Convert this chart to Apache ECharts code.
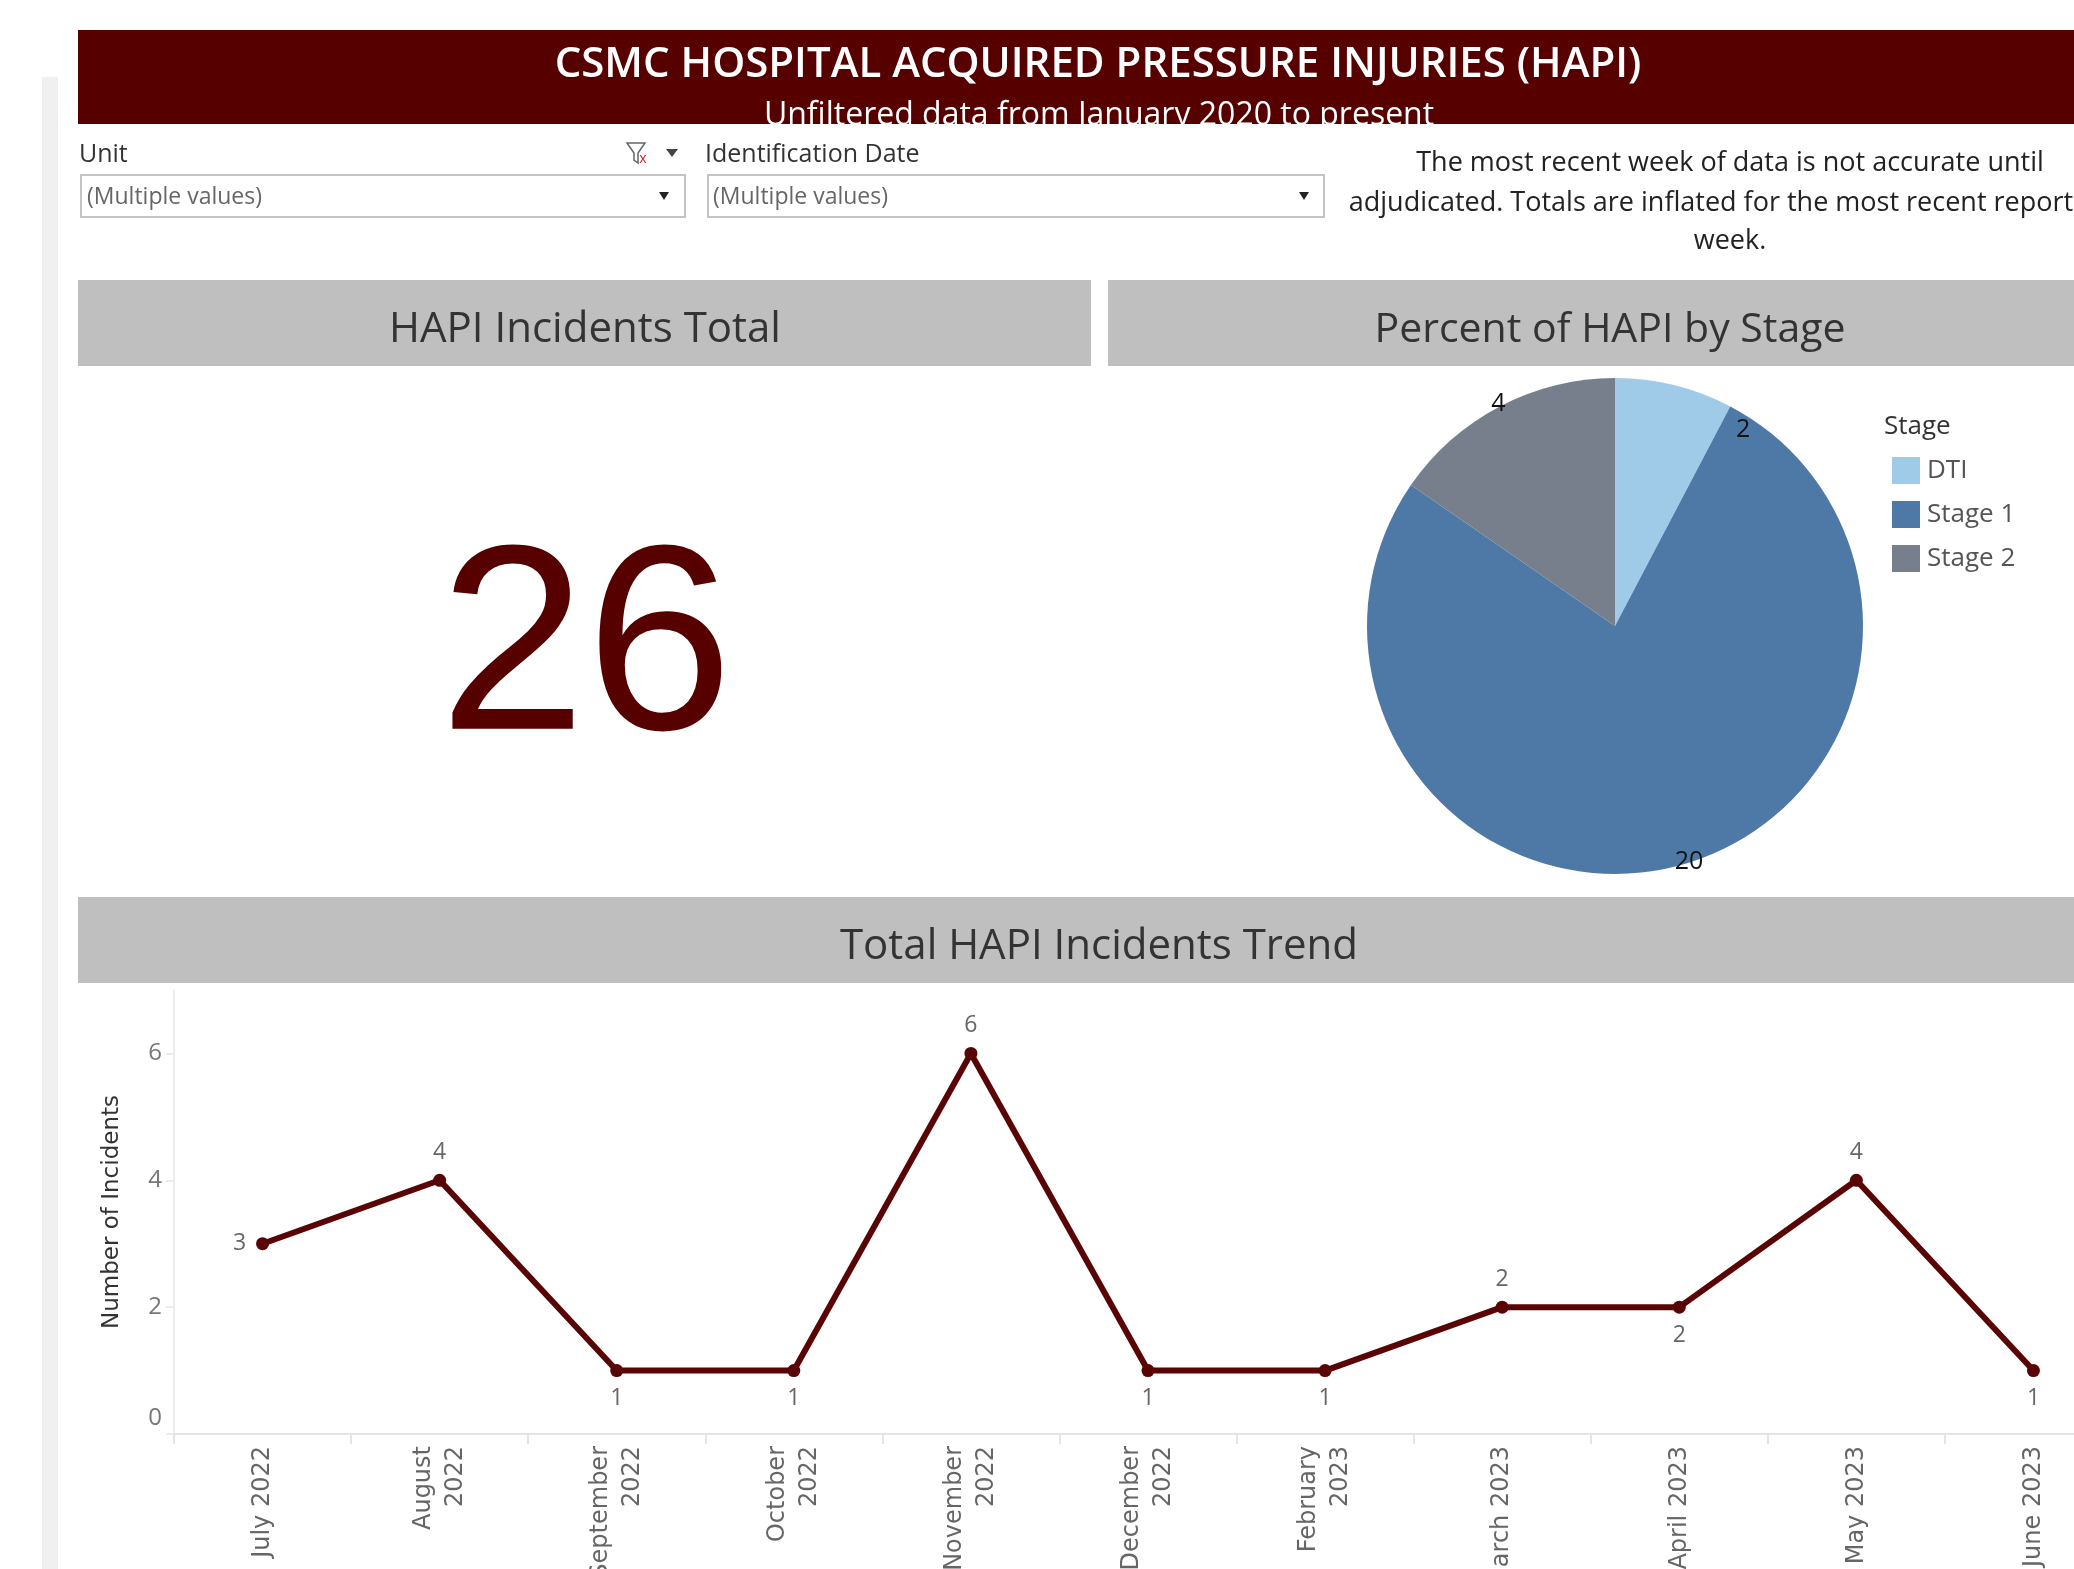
<!DOCTYPE html>
<html>
<head>
<meta charset="utf-8">
<script src="https://cdn.jsdelivr.net/npm/echarts@6/dist/echarts.min.js"></script>
<style>
html,body{margin:0;padding:0;background:#fff;overflow:hidden;}
#main{width:2130px;height:1569px;}
</style>
</head>
<body>
<div id="main"></div>
<script>
// ---- data ----
const months = ["July 2022","August 2022","September 2022","October 2022","November 2022","December 2022","February 2023","March 2023","April 2023","May 2023","June 2023"];
const incidents = [3,4,1,1,6,1,1,2,2,4,1];
const stageNames = ["DTI","Stage 1","Stage 2"];
const stageCounts = [2,20,4];
const stageColors = ["#a0cbe8","#4e79a7","#777f8c"];
const yTicks = [0,2,4,6];

const total = stageCounts.reduce((a,b)=>a+b,0);
const FONT = "Open Sans";

const chart = echarts.init(document.getElementById('main'), null, {renderer:'canvas'});

const pieData = stageNames.map((n,i)=>({name:n, value:stageCounts[i], itemStyle:{color:stageColors[i]}}));
const lineData = incidents.map((v,i)=>{
  let pos;
  if(i===0) pos='left';
  else pos = v > incidents[i-1] ? 'top' : 'bottom';
  return {value:v, label:{position:pos}};
});

function txt(x,y,text,size,color,opts){
  return Object.assign({type:'text', x:x, y:y, silent:true,
    style:Object.assign({text:text, fill:color, font:(opts&&opts.weight?opts.weight+' ':'')+size+'px "'+FONT+'"',
      textAlign:(opts&&opts.align)||'left', textVerticalAlign:(opts&&opts.valign)||'middle'},
      opts&&opts.style||{})}, opts&&opts.z!==undefined?{z:opts.z}:{});
}

const graphics = [
  {type:'rect', shape:{x:42,y:77,width:16,height:1492}, style:{fill:'#f0f0f0'}, silent:true},
  {type:'rect', shape:{x:78,y:30,width:2052,height:94}, style:{fill:'#560000'}, silent:true},
  txt(1098,65,"CSMC HOSPITAL ACQUIRED PRESSURE INJURIES (HAPI)",42,'#ffffff',{align:'center',weight:600}),
  txt(1099,116,"Unfiltered data from January 2020 to present",32,'#ffffff',{align:'center'}),
  {type:'rect', shape:{x:60,y:124,width:2070,height:12}, style:{fill:'#ffffff'}, silent:true, z:5},
  // filters
  txt(79,155,"Unit",25,'#333333'),
  txt(705,155,"Identification Date",25,'#333333'),
  {type:'rect', shape:{x:81,y:175,width:604,height:42}, style:{fill:'#fff',stroke:'#c4c4c4',lineWidth:2}, silent:true},
  {type:'rect', shape:{x:708,y:175,width:616,height:42}, style:{fill:'#fff',stroke:'#c4c4c4',lineWidth:2}, silent:true},
  txt(87,197,"(Multiple values)",23,'#666666'),
  txt(713,197,"(Multiple values)",23,'#666666'),
  {type:'polygon', shape:{points:[[659,192],[669,192],[664,200]]}, style:{fill:'#222'}, silent:true},
  {type:'polygon', shape:{points:[[1299,192],[1309,192],[1304,200]]}, style:{fill:'#222'}, silent:true},
  {type:'polygon', shape:{points:[[627,143],[645,143],[638,153],[638,163],[634,160],[634,153]]}, style:{fill:'none',stroke:'#666',lineWidth:1.5}, silent:true},
  txt(643,159,"x",14,'#d02020',{align:'center'}),
  {type:'polygon', shape:{points:[[666,149],[678,149],[672,157]]}, style:{fill:'#444'}, silent:true},
  // note
  txt(1730,163,"The most recent week of data is not accurate until",27,'#222222',{align:'center'}),
  txt(1730,203,"adjudicated. Totals are inflated for the most recent reporting",27,'#222222',{align:'center'}),
  txt(1730,241,"week.",27,'#222222',{align:'center'}),
  // section headers
  {type:'rect', shape:{x:78,y:280,width:1013,height:86}, style:{fill:'#bfbfbf'}, silent:true},
  {type:'rect', shape:{x:1108,y:280,width:1022,height:86}, style:{fill:'#bfbfbf'}, silent:true},
  {type:'rect', shape:{x:78,y:897,width:2052,height:86}, style:{fill:'#bfbfbf'}, silent:true},
  txt(585,330,"HAPI Incidents Total",42,'#333333',{align:'center'}),
  txt(1610,330,"Percent of HAPI by Stage",41,'#333333',{align:'center'}),
  txt(1099,947,"Total HAPI Incidents Trend",42,'#333333',{align:'center'}),
  // big number
  {type:'text', x:586, y:656, silent:true, style:{text:String(total), fill:'#560000',
     font:'264px "Liberation Sans"', textAlign:'center', textVerticalAlign:'middle'}},
  // legend title
  txt(1884,427,"Stage",26,'#333333')
];

const option = {
  animation:false,
  backgroundColor:'#ffffff',
  graphic:graphics,
  legend:{
    data:stageNames, orient:'vertical', left:1887, top:452, icon:'rect',
    itemWidth:28, itemHeight:27, itemGap:17, selectedMode:false,
    textStyle:{fontSize:26, color:'#555555', fontFamily:FONT, padding:[0,0,0,2]}
  },
  grid:{left:174, right:8, top:990, bottom:135, containLabel:false, outerBoundsMode:'none'},
  xAxis:{
    type:'category', data:months, boundaryGap:true,
    axisLine:{show:true, lineStyle:{color:'#e4e4e4', width:2}},
    axisTick:{show:true, length:10, lineStyle:{color:'#e4e4e4', width:2}},
    axisLabel:{rotate:90, fontSize:24, color:'#666666', fontFamily:'DejaVu Sans', margin:12, lineHeight:32,
      align:'right', verticalAlign:'middle', hideOverlap:false,
      formatter:function(v){ const p=v.split(' '); return p[0].length>5 ? p[0]+'\n'+p[1] : v; }}
  },
  yAxis:{
    type:'value', min:0, max:7, interval:2,
    name:'Number of Incidents', nameLocation:'middle', nameGap:50,
    nameTextStyle:{fontSize:23, color:'#333333', fontFamily:'DejaVu Sans'},
    axisLine:{show:true, lineStyle:{color:'#ececec', width:2}},
    axisTick:{show:true, length:8, lineStyle:{color:'#ececec', width:2}},
    splitLine:{show:false},
    axisLabel:{fontSize:24, color:'#777777', fontFamily:FONT, margin:12, showMaxLabel:false,
      formatter:function(v){ if(yTicks.indexOf(v)<0) return ''; return v===0 ? '{z|0}' : String(v); },
      rich:{z:{fontSize:24, color:'#777777', fontFamily:FONT, padding:[0,0,32,0]}}}
  },
  series:[
    {type:'pie', center:[1615,626], radius:[0,248], startAngle:90, clockwise:true,
     data:pieData, label:{show:false}, labelLine:{show:false}, silent:true,
     itemStyle:{borderWidth:0}},
    {type:'pie', center:[1615,626], radius:[232,264], startAngle:90, clockwise:true,
     data:stageNames.map((n,i)=>({name:n, value:stageCounts[i]})),
     itemStyle:{color:'rgba(0,0,0,0)'}, silent:true, legendHoverLink:false,
     label:{show:true, position:'inside', formatter:'{c}', fontSize:25, color:'#111111', fontFamily:FONT},
     labelLine:{show:false}, emphasis:{disabled:true},
     labelLayout:function(p){ return p.dataIndex===0 ? {dx:68, dy:48} : (p.dataIndex===1 ? {dx:14, dy:-8} : {}); }},
    {type:'line', data:lineData, symbol:'circle', symbolSize:13,
     itemStyle:{color:'#5a0505'}, lineStyle:{color:'#5a0505', width:6},
     label:{show:true, fontSize:23, color:'#666666', fontFamily:FONT, distance:10},
     silent:true}
  ]
};
chart.setOption(option);
</script>
</body>
</html>
